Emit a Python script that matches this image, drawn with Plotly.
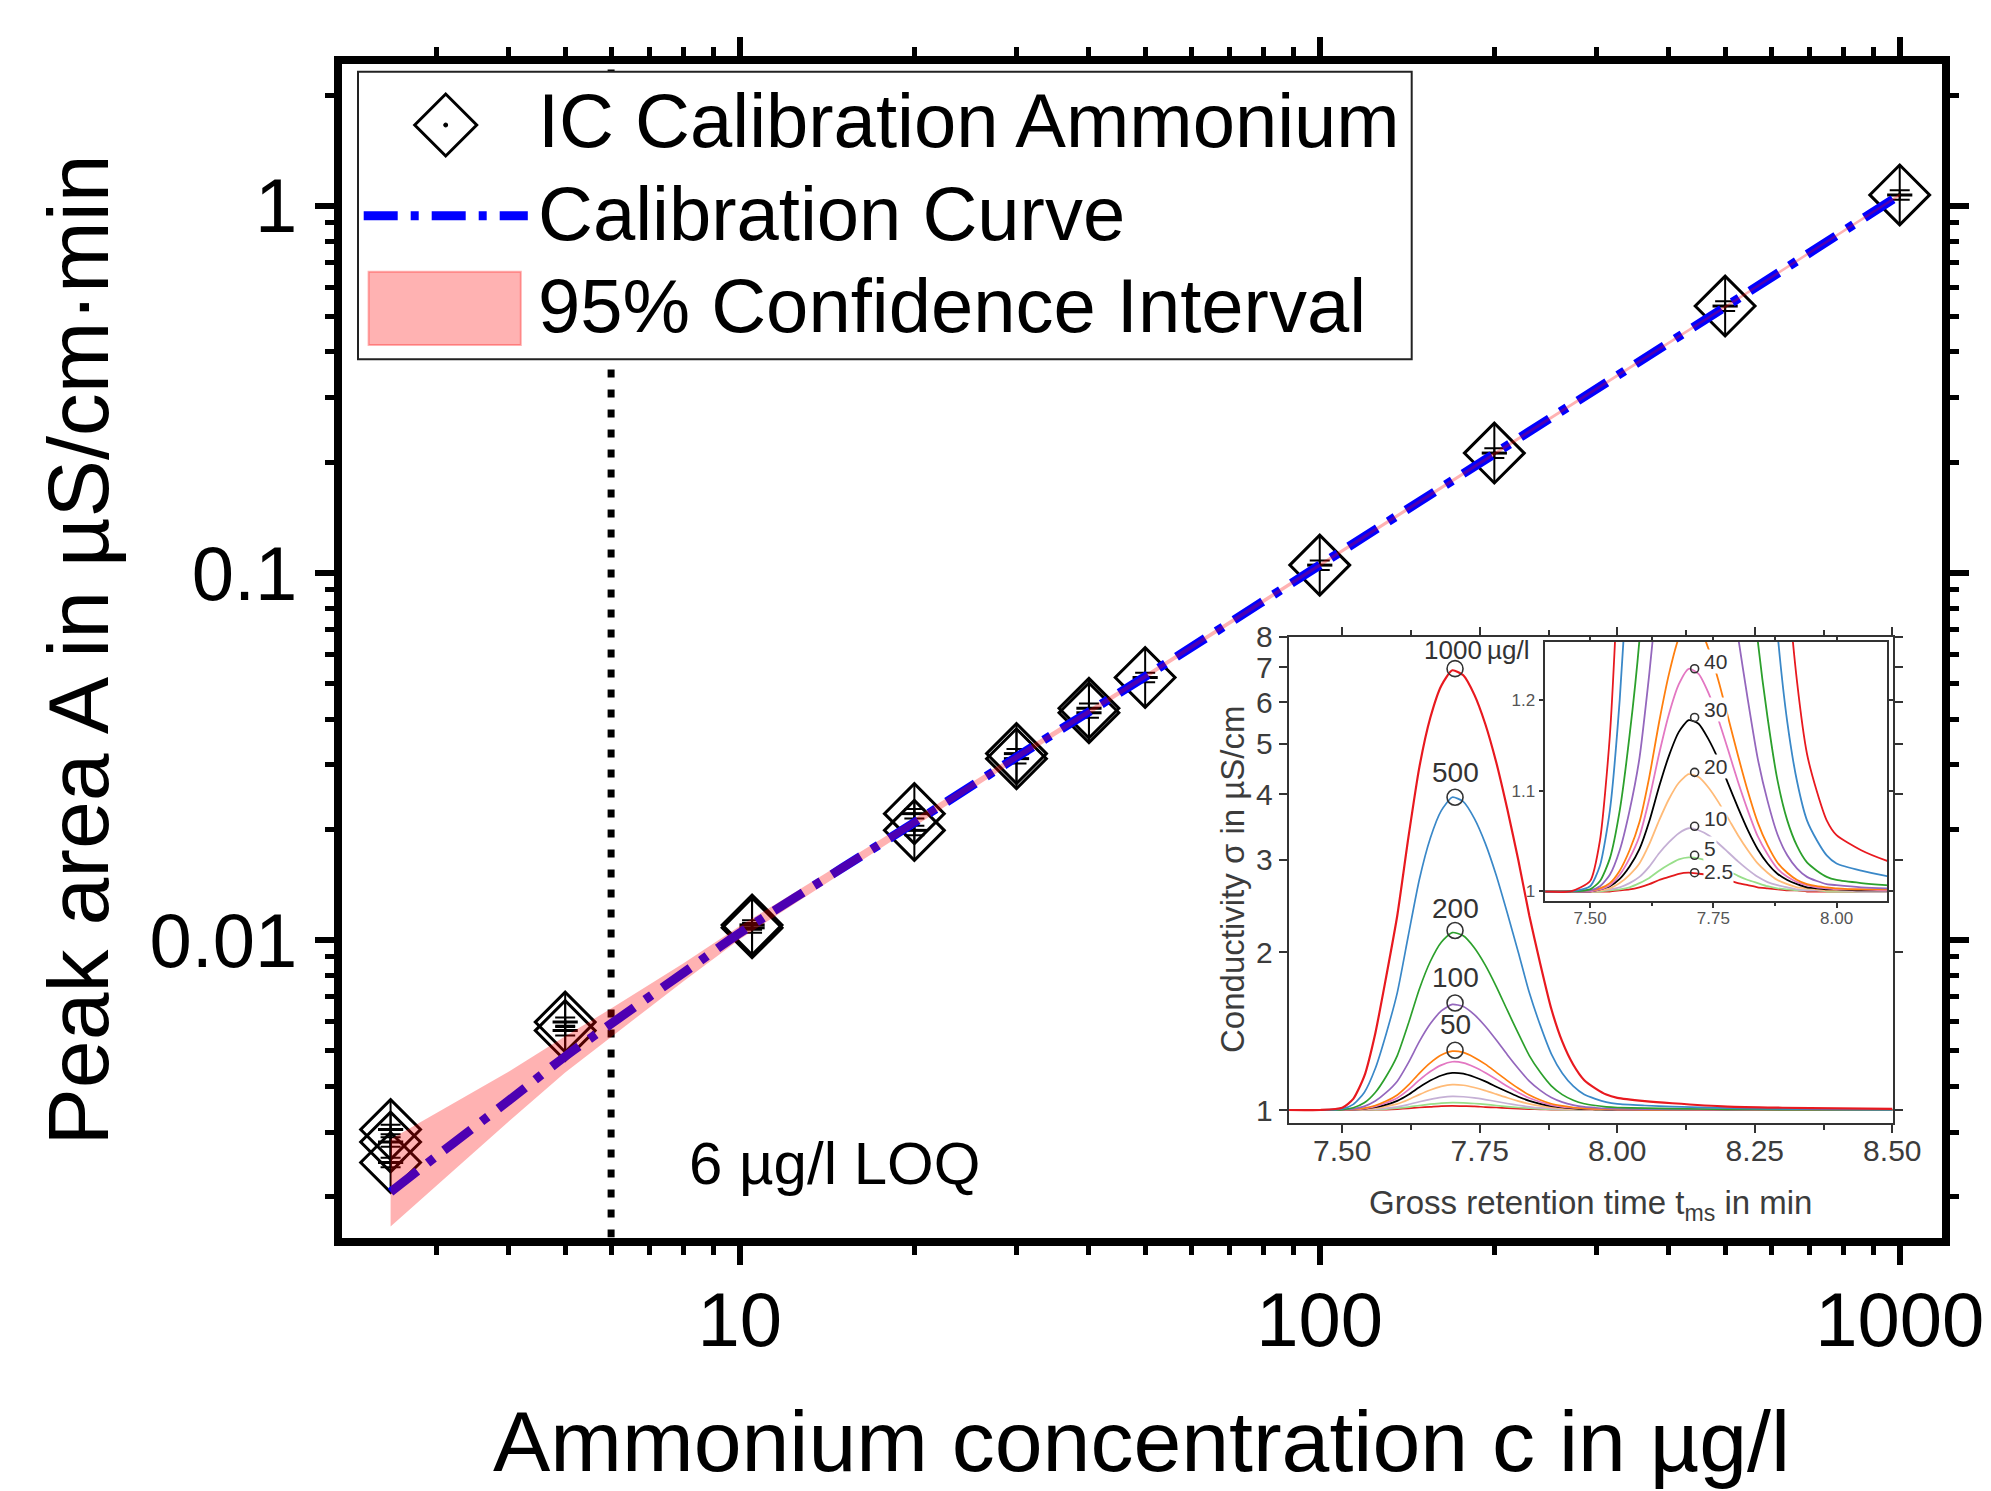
import plotly.graph_objects as go

W, H = 1991, 1491
FONT = "Liberation Sans, Arial, sans-serif"


def px(x):
    return x / W


def py(y):
    return 1 - y / H


# ---------------- main calibration data ----------------
conc = [2.5, 2.5, 2.5, 5, 5, 10.5, 10.5, 20, 20, 30, 30, 40, 40, 50, 100, 200, 500, 1000]
area = [0.00305, 0.00282, 0.00248, 0.00598, 0.00567, 0.0110, 0.0108, 0.0221, 0.0199,
        0.0322, 0.0312, 0.0428, 0.0416, 0.0519, 0.105, 0.212, 0.533, 1.07]

curve_c = [2.5, 3, 4, 5, 6, 8, 10, 15, 20, 30, 50, 100, 200, 500, 1000]
curve_A = [0.00206, 0.00258, 0.00366, 0.00482, 0.00592, 0.00815, 0.01045, 0.0157, 0.0209,
           0.0315, 0.0522, 0.105, 0.211, 0.530, 1.07]
ci_upper = [0.00287, 0.00338, 0.00439, 0.00547, 0.00651, 0.00865, 0.01092, 0.0162, 0.02143,
            0.0321, 0.0530, 0.1063, 0.2130, 0.535, 1.080]
ci_lower = [0.00166, 0.00215, 0.00321, 0.00436, 0.00546, 0.00773, 0.01006, 0.0152, 0.02038,
            0.0309, 0.0514, 0.1037, 0.2090, 0.525, 1.060]
loq = 6

x_ticks = [10, 100, 1000]
x_ticktext = ["10", "100", "1000"]
y_ticks = [0.01, 0.1, 1]
y_ticktext = ["0.01", "0.1", "1"]

# ---------------- chromatogram (inset) data ----------------
ret_time = [7.40, 7.46, 7.50, 7.52, 7.54, 7.56, 7.58, 7.60, 7.62, 7.64, 7.66, 7.68, 7.70,
            7.72, 7.74, 7.76, 7.78, 7.80, 7.82, 7.84, 7.86, 7.88, 7.90, 7.92, 7.94, 7.96,
            7.98, 8.00, 8.05, 8.10, 8.20, 8.30, 8.40, 8.50]

sig_1000 = [1.000, 1.000, 1.010, 1.050, 1.160, 1.400, 1.800, 2.350, 3.300, 4.500, 5.600, 6.450, 6.900,
            6.750, 6.200, 5.450, 4.600, 3.750, 3.000, 2.350, 1.900, 1.560, 1.350, 1.220, 1.140, 1.100,
            1.070, 1.055, 1.040, 1.030, 1.015, 1.010, 1.007, 1.005]
sig_500 = [1.000, 1.000, 1.005, 1.025, 1.080, 1.200, 1.400, 1.675, 2.150, 2.750, 3.300, 3.725, 3.950,
           3.875, 3.600, 3.225, 2.800, 2.375, 2.000, 1.675, 1.450, 1.280, 1.175, 1.110, 1.070, 1.050,
           1.035, 1.027, 1.020, 1.015, 1.008, 1.005, 1.003, 1.002]
sig_200 = [1.000, 1.000, 1.002, 1.010, 1.032, 1.080, 1.160, 1.270, 1.460, 1.700, 1.920, 2.090, 2.180,
           2.150, 2.040, 1.890, 1.720, 1.550, 1.400, 1.270, 1.180, 1.112, 1.070, 1.044, 1.028, 1.020,
           1.014, 1.011, 1.008, 1.006, 1.003, 1.002, 1.001, 1.001]
sig_100 = [1.000, 1.000, 1.001, 1.005, 1.016, 1.040, 1.080, 1.135, 1.230, 1.350, 1.460, 1.545, 1.590,
           1.575, 1.520, 1.445, 1.360, 1.275, 1.200, 1.135, 1.090, 1.056, 1.035, 1.022, 1.014, 1.010,
           1.007, 1.006, 1.004, 1.003, 1.002, 1.001, 1.001, 1.000]
sig_50 = [1.000, 1.000, 1.001, 1.003, 1.008, 1.020, 1.040, 1.068, 1.115, 1.175, 1.230, 1.273, 1.295,
          1.288, 1.260, 1.223, 1.180, 1.138, 1.100, 1.068, 1.045, 1.028, 1.018, 1.011, 1.007, 1.005,
          1.004, 1.003, 1.002, 1.002, 1.001, 1.000, 1.000, 1.000]
sig_40 = [1.000, 1.000, 1.000, 1.002, 1.006, 1.016, 1.032, 1.054, 1.092, 1.140, 1.184, 1.218, 1.236,
          1.230, 1.208, 1.178, 1.144, 1.110, 1.080, 1.054, 1.036, 1.022, 1.014, 1.009, 1.006, 1.004,
          1.003, 1.002, 1.002, 1.001, 1.001, 1.000, 1.000, 1.000]
sig_30 = [1.000, 1.000, 1.000, 1.002, 1.005, 1.012, 1.024, 1.041, 1.069, 1.105, 1.138, 1.164, 1.177,
          1.173, 1.156, 1.134, 1.108, 1.083, 1.060, 1.041, 1.027, 1.017, 1.011, 1.007, 1.004, 1.003,
          1.002, 1.002, 1.001, 1.001, 1.000, 1.000, 1.000, 1.000]
sig_20 = [1.000, 1.000, 1.000, 1.001, 1.003, 1.008, 1.016, 1.027, 1.046, 1.070, 1.092, 1.109, 1.118,
          1.115, 1.104, 1.089, 1.072, 1.055, 1.040, 1.027, 1.018, 1.011, 1.007, 1.004, 1.003, 1.002,
          1.001, 1.001, 1.001, 1.001, 1.000, 1.000, 1.000, 1.000]
sig_10 = [1.000, 1.000, 1.000, 1.001, 1.002, 1.004, 1.008, 1.014, 1.024, 1.037, 1.048, 1.057, 1.062,
          1.060, 1.055, 1.047, 1.038, 1.029, 1.021, 1.014, 1.009, 1.006, 1.004, 1.002, 1.001, 1.001,
          1.001, 1.001, 1.000, 1.000, 1.000, 1.000, 1.000, 1.000]
sig_5 = [1.000, 1.000, 1.000, 1.000, 1.001, 1.002, 1.004, 1.008, 1.013, 1.020, 1.026, 1.031, 1.033,
         1.032, 1.029, 1.025, 1.020, 1.015, 1.011, 1.008, 1.005, 1.003, 1.002, 1.001, 1.001, 1.001,
         1.000, 1.000, 1.000, 1.000, 1.000, 1.000, 1.000, 1.000]
sig_2p5 = [1.000, 1.000, 1.000, 1.000, 1.000, 1.001, 1.002, 1.004, 1.007, 1.011, 1.014, 1.017, 1.018,
           1.017, 1.016, 1.013, 1.011, 1.008, 1.006, 1.004, 1.003, 1.002, 1.001, 1.001, 1.000, 1.000,
           1.000, 1.000, 1.000, 1.000, 1.000, 1.000, 1.000, 1.000]

chrom_labels = ["2.5", "5", "10", "20", "30", "40", "50", "100", "200", "500", "1000"]
chrom_series = [sig_2p5, sig_5, sig_10, sig_20, sig_30, sig_40, sig_50, sig_100, sig_200, sig_500, sig_1000]
chrom_colors = ["#e31a1c", "#98df8a", "#c5b0d5", "#ffbb78", "#000000", "#e377c2", "#ff7f0e",
                "#9467bd", "#2ca02c", "#3a88c8", "#e8191f"]

peak_time = 7.705
main_peak_labels = ["50", "100", "200", "500"]
main_peak_vals = [1.30, 1.60, 2.20, 3.95, 6.95]
inner_peak_labels = ["2.5", "5", "10", "20", "30", "40"]
inner_peak_vals = [1.018, 1.035, 1.064, 1.12, 1.18, 1.236]

# ---------------- figure ----------------
fig = go.Figure()

Y_RANGE = [-2.8099, 0.3859]
fig.add_trace(go.Scatter(x=[loq, loq], y=[10 ** Y_RANGE[0], 10 ** Y_RANGE[1]], mode="lines",
                         line=dict(color="black", width=7, dash="8px,12px"),
                         xaxis="x", yaxis="y", hoverinfo="skip"))
fig.add_trace(go.Scatter(x=conc, y=area, mode="markers",
                         marker=dict(symbol="diamond-open-dot", size=46, color="black",
                                     line=dict(width=3, color="black")),
                         error_y=dict(type="percent", value=3, width=10, thickness=2, color="black"),
                         xaxis="x", yaxis="y"))
fig.add_trace(go.Scatter(x=conc, y=area, mode="markers",
                         marker=dict(symbol="line-ns-open", size=43, color="black",
                                     line=dict(width=2, color="black")),
                         xaxis="x", yaxis="y", hoverinfo="skip"))
fig.add_trace(go.Scatter(x=conc, y=area, mode="markers",
                         marker=dict(symbol="line-ew-open", size=18, color="black",
                                     line=dict(width=3, color="black")),
                         xaxis="x", yaxis="y", hoverinfo="skip"))
fig.add_trace(go.Scatter(x=curve_c, y=curve_A, mode="lines",
                         line=dict(color="#0000ff", width=9, dash="34px,13px,8px,13px", shape="spline"),
                         xaxis="x", yaxis="y"))
fig.add_trace(go.Scatter(x=curve_c + curve_c[::-1], y=ci_upper + ci_lower[::-1], mode="lines",
                         fill="toself", fillcolor="rgba(255,0,0,0.3)",
                         line=dict(width=0, color="rgba(255,0,0,0)"),
                         xaxis="x", yaxis="y", hoverinfo="skip"))

for lab, sig, col in zip(chrom_labels, chrom_series, chrom_colors):
    lw = 2.2 if lab == "1000" else 1.7
    fig.add_trace(go.Scatter(x=ret_time, y=sig, mode="lines", name=lab,
                             line=dict(color=col, width=lw, shape="spline", smoothing=0.6),
                             xaxis="x2", yaxis="y2"))
for lab, sig, col in zip(chrom_labels, chrom_series, chrom_colors):
    fig.add_trace(go.Scatter(x=ret_time, y=sig, mode="lines", name=lab,
                             line=dict(color=col, width=1.8, shape="spline", smoothing=0.6),
                             xaxis="x3", yaxis="y3"))
fig.add_trace(go.Scatter(x=[peak_time] * len(main_peak_vals), y=main_peak_vals, mode="markers",
                         marker=dict(symbol="circle-open", size=16, color="#333333",
                                     line=dict(width=1.6, color="#333333")),
                         xaxis="x2", yaxis="y2"))
fig.add_trace(go.Scatter(x=[7.712] * len(inner_peak_vals), y=inner_peak_vals, mode="markers",
                         marker=dict(symbol="circle-open", size=8, color="#333333",
                                     line=dict(width=1.6, color="#333333")),
                         xaxis="x3", yaxis="y3"))

# ---------------- axes ----------------
main_tickfont = dict(family=FONT, size=76, color="black")
x_minor = [3, 4, 5, 6, 7, 8, 9, 20, 30, 40, 50, 60, 70, 80, 90, 200, 300, 400, 500, 600, 700, 800, 900]
y_minor = [0.002, 0.003, 0.004, 0.005, 0.006, 0.007, 0.008, 0.009,
           0.02, 0.03, 0.04, 0.05, 0.06, 0.07, 0.08, 0.09,
           0.2, 0.3, 0.4, 0.5, 0.6, 0.7, 0.8, 0.9, 2]
common_main = dict(showline=True, linewidth=8, linecolor="black", mirror="allticks",
                   ticks="outside", ticklen=19, tickwidth=6, tickcolor="black", automargin=False,
                   showgrid=False, zeroline=False, tickfont=main_tickfont, tickmode="array")

inset_font = dict(family=FONT, size=30, color="#3c3c3c")
common_inset = dict(showline=True, linewidth=2, linecolor="#333333", mirror="allticks",
                    ticks="outside", ticklen=8, tickwidth=2, tickcolor="#333333", automargin=False,
                    showgrid=False, zeroline=False, tickfont=inset_font, tickmode="array")
inner_font = dict(family=FONT, size=17, color="#555555")
common_inner = dict(showline=True, linewidth=1.5, linecolor="#333333", mirror="allticks",
                    ticks="outside", ticklen=5, tickwidth=1.5, tickcolor="#333333", automargin=False,
                    showgrid=False, zeroline=False, tickfont=inner_font, tickmode="array")

fig.update_layout(
    width=W, height=H,
    margin=dict(l=0, r=0, t=0, b=0, pad=0, autoexpand=False),
    paper_bgcolor="white", plot_bgcolor="white",
    showlegend=False,
    xaxis=dict(type="log", range=[0.3133, 3.0729], domain=[px(341.5), px(1942)], anchor="y",
               tickvals=x_ticks, ticktext=x_ticktext, ticklabelstandoff=-10,
               minor=dict(tickmode="array", tickvals=x_minor, ticks="outside", ticklen=9,
                          tickwidth=5, tickcolor="black"),
               **common_main),
    yaxis=dict(type="log", range=Y_RANGE, domain=[py(1237.5), py(64)], anchor="x",
               tickvals=y_ticks, ticktext=y_ticktext, ticklabelstandoff=2,
               minor=dict(tickmode="array", tickvals=y_minor, ticks="outside", ticklen=9,
                          tickwidth=5, tickcolor="black"),
               **common_main),
    xaxis2=dict(range=[7.4024, 8.5018], domain=[px(1288.6), px(1893.3)], anchor="y2",
                tickvals=[7.5, 7.75, 8.0, 8.25, 8.5], ticktext=["7.50", "7.75", "8.00", "8.25", "8.50"],
                ticklabelstandoff=-8,
                minor=dict(tickmode="array", tickvals=[7.625, 7.875, 8.125, 8.375], ticks="outside",
                           ticklen=5, tickwidth=2, tickcolor="#333333"),
                **common_inset),
    yaxis2=dict(type="log", range=[-0.0248, 0.9031], domain=[py(1123), py(636.6)], anchor="x2",
                tickvals=[1, 2, 3, 4, 5, 6, 7, 8], ticktext=["1", "2", "3", "4", "5", "6", "7", "8"],
                **common_inset),
    xaxis3=dict(range=[7.409, 8.103], domain=[px(1545.3), px(1887.3)], anchor="y3",
                tickvals=[7.5, 7.75, 8.0], ticktext=["7.50", "7.75", "8.00"],
                ticklabelstandoff=-5,
                minor=dict(tickmode="array", tickvals=[7.625, 7.875], ticks="outside",
                           ticklen=3, tickwidth=1.5, tickcolor="#333333"),
                **common_inner),
    yaxis3=dict(type="log", range=[-0.0041, 0.1032], domain=[py(901.4), py(641.7)], anchor="x3",
                tickvals=[1, 1.1, 1.2], ticktext=["1", "1.1", "1.2"],
                **common_inner),
)

# ---------------- legend (drawn manually) ----------------
shapes = []
shapes.append(dict(type="rect", xref="paper", yref="paper", layer="above",
                   x0=px(358), x1=px(1411.7), y0=py(359.3), y1=py(71.7),
                   line=dict(color="#222222", width=2), fillcolor="white"))
dcx, dcy, dr = 445.7, 125, 31
shapes.append(dict(type="path", xref="paper", yref="paper", layer="above",
                   path="M{},{} L{},{} L{},{} L{},{} Z".format(
                       px(dcx - dr), py(dcy), px(dcx), py(dcy - dr), px(dcx + dr), py(dcy),
                       px(dcx), py(dcy + dr)),
                   line=dict(color="black", width=3)))
shapes.append(dict(type="circle", xref="paper", yref="paper", layer="above",
                   x0=px(dcx - 2), x1=px(dcx + 2), y0=py(dcy + 2), y1=py(dcy - 2),
                   line=dict(color="black", width=1), fillcolor="black"))
shapes.append(dict(type="line", xref="paper", yref="paper", layer="above",
                   x0=px(363.7), x1=px(527.8), y0=py(215.7), y1=py(215.7),
                   line=dict(color="#0000ff", width=9, dash="34px,13px,8px,13px")))
shapes.append(dict(type="rect", xref="paper", yref="paper", layer="above",
                   x0=px(368.6), x1=px(520.8), y0=py(345), y1=py(271.7),
                   line=dict(color="rgba(255,0,0,0.3)", width=2), fillcolor="rgba(255,0,0,0.3)"))
fig.update_layout(shapes=shapes)

ann = []
legend_texts = ["IC Calibration Ammonium", "Calibration Curve", "95% Confidence Interval"]
legend_y = [120.3, 213.8, 305.8]
for t, yy in zip(legend_texts, legend_y):
    ann.append(dict(text=t, xref="paper", yref="paper", x=px(536), y=py(yy), xanchor="left",
                    yanchor="middle", showarrow=False, font=dict(family=FONT, size=76, color="black")))

ann.append(dict(text="Ammonium concentration c in µg/l", xref="paper", yref="paper",
                x=px(1141.5), y=py(1441), xanchor="center", yanchor="middle", showarrow=False,
                font=dict(family=FONT, size=86, color="black")))
ann.append(dict(text="Peak area A in µS/cm·min", xref="paper", yref="paper",
                x=px(77), y=py(650.5), xanchor="center", yanchor="middle", showarrow=False,
                textangle=-90, font=dict(family=FONT, size=86, color="black")))
ann.append(dict(text="6 µg/l LOQ", xref="paper", yref="paper", x=px(834), y=py(1163),
                xanchor="center", yanchor="middle", showarrow=False,
                font=dict(family=FONT, size=60, color="black")))

ann.append(dict(text="Gross retention time t<sub>ms</sub> in min", xref="paper", yref="paper",
                x=px(1590), y=py(1205), xanchor="center", yanchor="middle", showarrow=False,
                font=dict(family=FONT, size=33, color="#3c3c3c")))
ann.append(dict(text="Conductivity σ in µS/cm", xref="paper", yref="paper",
                x=px(1232), y=py(880), xanchor="center", yanchor="middle", showarrow=False,
                textangle=-90, font=dict(family=FONT, size=33, color="#3c3c3c")))

ann.append(dict(text="1000\u2009µg/l", xref="x2", yref="y2", x=7.645, y=0.878, xanchor="left",
                yanchor="middle", showarrow=False, font=dict(family=FONT, size=26, color="#333333")))
for lab, ly in zip(main_peak_labels, [0.1622, 0.2524, 0.3844, 0.6444]):
    ann.append(dict(text=lab, xref="x2", yref="y2", x=peak_time, y=ly, xanchor="center",
                    yanchor="middle", showarrow=False, font=dict(family=FONT, size=28, color="#333333")))
for lab, ly in zip(inner_peak_labels, [0.0082, 0.0179, 0.0302, 0.0516, 0.0750, 0.0950]):
    ann.append(dict(text=lab, xref="x3", yref="y3", x=7.729, y=ly, xanchor="left",
                    yanchor="middle", showarrow=False, bgcolor="white", borderpad=0,
                    font=dict(family=FONT, size=21, color="#333333")))

fig.update_layout(annotations=ann)

fig.write_html("out.html", config={"displayModeBar": False},
               post_script="document.body.style.margin='0';")
